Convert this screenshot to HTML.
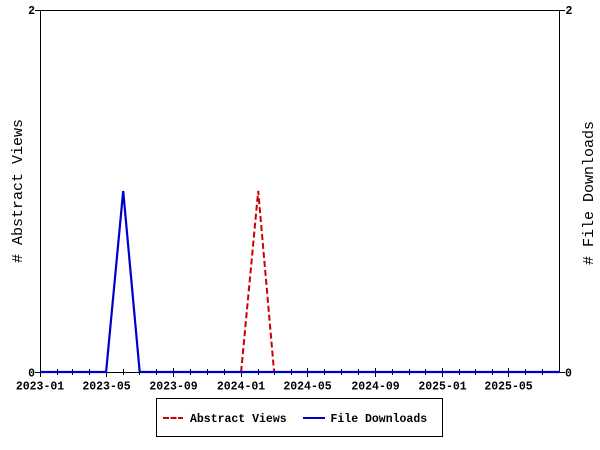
<!DOCTYPE html>
<html>
<head>
<meta charset="utf-8">
<style>
  html, body { margin: 0; padding: 0; background: #ffffff; }
  svg { display: block; }
  text { font-family: "Liberation Mono", "DejaVu Sans Mono", monospace; fill: #000; }
  .tk { font-size: 11.5px; font-weight: bold; }
  .ttl { font-size: 15px; }
</style>
</head>
<body>
<svg width="600" height="450" viewBox="0 0 600 450" xmlns="http://www.w3.org/2000/svg">
  <rect x="0" y="0" width="600" height="450" fill="#ffffff"/>

  <!-- frame -->
  <line x1="40.5" y1="10.5" x2="559.5" y2="10.5" stroke="#000" stroke-width="1"/>
  <line x1="40.5" y1="10" x2="40.5" y2="373" stroke="#000" stroke-width="1"/>
  <line x1="559.5" y1="10" x2="559.5" y2="373" stroke="#000" stroke-width="1"/>
  <line x1="40" y1="372.5" x2="560" y2="372.5" stroke="#000" stroke-width="1"/>

  <!-- y ticks -->
  <line x1="35" y1="10.5" x2="40" y2="10.5" stroke="#000" stroke-width="1"/>
  <line x1="35" y1="372.5" x2="40" y2="372.5" stroke="#000" stroke-width="1"/>
  <line x1="560" y1="10.5" x2="565" y2="10.5" stroke="#000" stroke-width="1"/>
  <line x1="560" y1="372.5" x2="565" y2="372.5" stroke="#000" stroke-width="1"/>

  <!-- x minor ticks -->
  <g stroke="#000" stroke-width="1">
    <line x1="57.5" y1="369" x2="57.5" y2="375"/>
    <line x1="72.5" y1="369" x2="72.5" y2="375"/>
    <line x1="89.5" y1="369" x2="89.5" y2="375"/>
    <line x1="123.5" y1="369" x2="123.5" y2="375"/>
    <line x1="139.5" y1="369" x2="139.5" y2="375"/>
    <line x1="156.5" y1="369" x2="156.5" y2="375"/>
    <line x1="190.5" y1="369" x2="190.5" y2="375"/>
    <line x1="207.5" y1="369" x2="207.5" y2="375"/>
    <line x1="224.5" y1="369" x2="224.5" y2="375"/>
    <line x1="258.5" y1="369" x2="258.5" y2="375"/>
    <line x1="274.5" y1="369" x2="274.5" y2="375"/>
    <line x1="291.5" y1="369" x2="291.5" y2="375"/>
    <line x1="324.5" y1="369" x2="324.5" y2="375"/>
    <line x1="341.5" y1="369" x2="341.5" y2="375"/>
    <line x1="358.5" y1="369" x2="358.5" y2="375"/>
    <line x1="392.5" y1="369" x2="392.5" y2="375"/>
    <line x1="409.5" y1="369" x2="409.5" y2="375"/>
    <line x1="425.5" y1="369" x2="425.5" y2="375"/>
    <line x1="459.5" y1="369" x2="459.5" y2="375"/>
    <line x1="475.5" y1="369" x2="475.5" y2="375"/>
    <line x1="492.5" y1="369" x2="492.5" y2="375"/>
    <line x1="525.5" y1="369" x2="525.5" y2="375"/>
    <line x1="542.5" y1="369" x2="542.5" y2="375"/>
  </g>
  <!-- x major ticks -->
  <g stroke="#000" stroke-width="1">
    <line x1="40.5" y1="368" x2="40.5" y2="377"/>
    <line x1="106.5" y1="368" x2="106.5" y2="377"/>
    <line x1="173.5" y1="368" x2="173.5" y2="377"/>
    <line x1="241.5" y1="368" x2="241.5" y2="377"/>
    <line x1="307.5" y1="368" x2="307.5" y2="377"/>
    <line x1="375.5" y1="368" x2="375.5" y2="377"/>
    <line x1="442.5" y1="368" x2="442.5" y2="377"/>
    <line x1="508.5" y1="368" x2="508.5" y2="377"/>
  </g>

  <!-- series: Abstract Views (red dashed) -->
  <polyline fill="none" stroke="#cc0000" stroke-width="2" stroke-dasharray="6,3"
    points="241.1,372 258.2,191 274.1,372"/>
  <!-- series: File Downloads (blue) -->
  <polyline fill="none" stroke="#0000cc" stroke-width="2.2"
    points="40,372 106.1,372 123.2,191 139.7,372 559.5,372"/>

  <!-- y tick labels -->
  <text class="tk" x="35" y="14" text-anchor="end">2</text>
  <text class="tk" x="35" y="376.5" text-anchor="end">0</text>
  <text class="tk" x="565.5" y="14" text-anchor="start">2</text>
  <text class="tk" x="565" y="376.5" text-anchor="start">0</text>

  <!-- x tick labels -->
  <g class="tk" text-anchor="middle">
    <text x="40" y="389.5">2023-01</text>
    <text x="106.5" y="389.5">2023-05</text>
    <text x="173.5" y="389.5">2023-09</text>
    <text x="241" y="389.5">2024-01</text>
    <text x="307.5" y="389.5">2024-05</text>
    <text x="375.5" y="389.5">2024-09</text>
    <text x="442.5" y="389.5">2025-01</text>
    <text x="508.5" y="389.5">2025-05</text>
  </g>

  <!-- axis titles -->
  <text class="ttl" transform="translate(22,191) rotate(-90)" text-anchor="middle"># Abstract Views</text>
  <text class="ttl" transform="translate(593,193) rotate(-90)" text-anchor="middle"># File Downloads</text>

  <!-- legend -->
  <rect x="156.5" y="398.5" width="286" height="38" fill="#ffffff" stroke="#000" stroke-width="1"/>
  <line x1="163" y1="418" x2="183" y2="418" stroke="#cc0000" stroke-width="2" stroke-dasharray="6,1.5"/>
  <text class="tk" x="190" y="422">Abstract Views</text>
  <line x1="303" y1="418" x2="325" y2="418" stroke="#0000cc" stroke-width="2"/>
  <text class="tk" x="330.5" y="422">File Downloads</text>
</svg>
</body>
</html>
